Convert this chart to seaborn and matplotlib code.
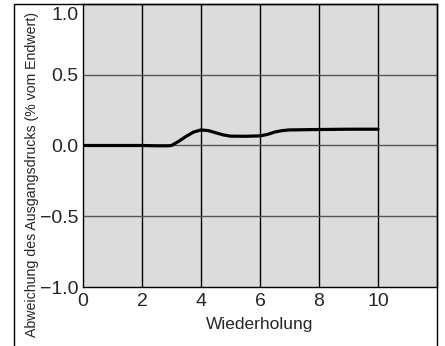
import numpy as np
import pandas as pd
import seaborn as sns
import matplotlib.pyplot as plt
import matplotlib.transforms as mtransforms
from matplotlib.patches import Rectangle

wiederholung = [0, 1, 2, 2.5, 2.9, 3.0, 3.25, 3.5, 3.75, 4.0, 4.25, 4.5, 4.75, 5.0, 5.5, 6.0, 6.25, 6.5, 6.75, 7.0, 8, 9, 10]
abweichung = [0, 0, 0, -0.002, -0.002, 0.0, 0.03, 0.065, 0.095, 0.11, 0.105, 0.09, 0.075, 0.066, 0.065, 0.068, 0.078, 0.095, 0.105, 0.11, 0.113, 0.115, 0.115]
x_ticks = [0, 2, 4, 6, 8, 10]
y_ticks = [-1.0, -0.5, 0.0, 0.5, 1.0]

df = pd.DataFrame({'Wiederholung': wiederholung, 'Abweichung': abweichung})

sns.set_style('white')
plt.rcParams['font.family'] = ['Liberation Sans', 'DejaVu Sans']

fig = plt.figure(figsize=(4.45, 3.46), dpi=100)
ax = fig.add_axes([0.1865, 0.1705, 0.7955, 0.818])
ax.set_facecolor('#dcdcdc')

# grid
for v in [2, 4, 6, 8, 10]:
    ax.axvline(v, color='black', lw=1, zorder=1)
for h in [-0.5, 0.0, 0.5]:
    ax.axhline(h, color='#555555', lw=1, zorder=1)

sns.lineplot(data=df, x='Wiederholung', y='Abweichung', color='black', lw=2.3, ax=ax, zorder=3)

ax.set_xlim(0, 12)
ax.set_ylim(-1.0, 1.0)
ax.set_xticks(x_ticks)
ax.set_xticklabels([str(t) for t in x_ticks])
ax.set_yticks(y_ticks)
ax.set_yticklabels(['\u22121.0', '\u22120.5', '0.0', '0.5', '1.0'])
ax.tick_params(axis='x', length=0, labelsize=14, pad=4)
ax.tick_params(axis='y', length=0, labelsize=14, pad=3)
ax.set_xlabel('Wiederholung', fontsize=12.5, labelpad=5)
ax.set_ylabel('Abweichung des Ausgangsdrucks (% vom Endwert)', fontsize=10.2)
ax.yaxis.set_label_coords(-0.125, 0.396)
for s in ax.spines.values():
    s.set_color('black')
    s.set_linewidth(1)

# top label sits a bit lower so it stays inside the figure
fig.canvas.draw()
top_lab = ax.get_yticklabels()[-1]
top_lab.set_transform(top_lab.get_transform() + mtransforms.ScaledTranslation(0, -10 / 100, fig.dpi_scale_trans))

# outer frame
fig.patches.append(Rectangle((14 / 445, -0.1), (437 - 14) / 445, 1.1 - 4 / 346,
                             transform=fig.transFigure, fill=False, edgecolor='black', lw=1))

plt.savefig('out.png', dpi=100)
